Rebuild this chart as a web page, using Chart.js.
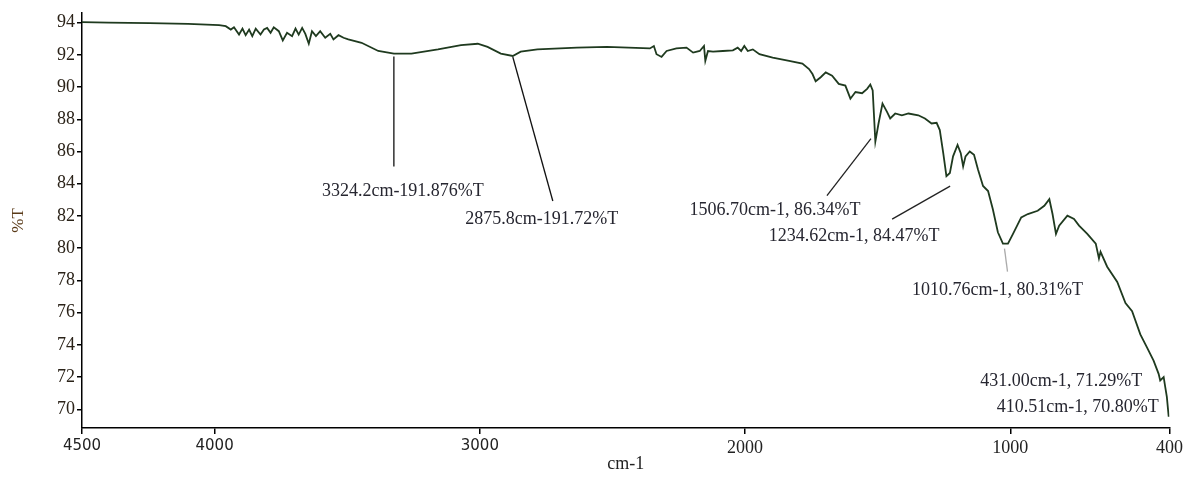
<!DOCTYPE html>
<html lang="en">
<head>
<meta charset="UTF-8">
<title>FTIR spectrum</title>
<script src="https://cdn.jsdelivr.net/npm/chart.js"></script>
<style>
  html, body { margin: 0; padding: 0; background: #fff; }
  .wrap { width: 1186px; height: 479px; }
</style>
</head>
<body>
<div class="wrap"><canvas id="ftir"></canvas></div>
<script>
// spectrum: wavenumber (cm-1) and transmittance (%T)
const wavenumbers = [
  4500, 4400, 4245, 4100, 3983, 3958, 3939, 3927, 3908, 3895, 3883, 3870, 3858, 3845, 3827, 3814,
  3802, 3789, 3777, 3758, 3743, 3727, 3708, 3695, 3683, 3670, 3658, 3645, 3633, 3618, 3602, 3583,
  3564, 3552, 3533, 3514, 3496, 3446, 3383, 3324, 3258, 3158, 3071, 3008, 2971, 2921, 2876, 2846,
  2783, 2634, 2521, 2359, 2344, 2334, 2315, 2296, 2259, 2221, 2196, 2171, 2155, 2150, 2140, 2121,
  2084, 2046, 2028, 2015, 2003, 1990, 1971, 1946, 1896, 1834, 1784, 1759, 1746, 1734, 1715, 1696,
  1672, 1647, 1622, 1603, 1584, 1559, 1540, 1528, 1519, 1509, 1497, 1482, 1465, 1453, 1434, 1409,
  1384, 1347, 1322, 1297, 1278, 1266, 1253, 1241, 1228, 1216, 1199, 1187, 1178, 1169, 1153, 1137,
  1122, 1103, 1084, 1066, 1047, 1028, 1009, 990, 959, 934, 897, 872, 853, 841, 828, 816,
  785, 760, 741, 710, 678, 666, 660, 635, 597, 566, 541, 510, 485, 460, 441, 435,
  422, 416, 410, 403
];
const transmittance = [
  94.03, 94.00, 93.97, 93.92, 93.85, 93.78, 93.57, 93.71, 93.26, 93.63, 93.22, 93.57, 93.16, 93.63, 93.26, 93.57,
  93.67, 93.37, 93.71, 93.47, 92.90, 93.37, 93.16, 93.63, 93.26, 93.67, 93.30, 92.69, 93.47, 93.16, 93.47, 93.06,
  93.30, 92.96, 93.22, 93.06, 92.96, 92.75, 92.24, 92.08, 92.08, 92.34, 92.61, 92.69, 92.49, 92.08, 91.93, 92.20,
  92.34, 92.45, 92.49, 92.40, 92.55, 92.04, 91.87, 92.24, 92.40, 92.45, 92.14, 92.24, 92.55, 91.63, 92.24, 92.20,
  92.24, 92.28, 92.45, 92.24, 92.55, 92.24, 92.34, 92.04, 91.83, 91.63, 91.46, 91.12, 90.81, 90.36, 90.61, 90.91,
  90.71, 90.20, 90.09, 89.28, 89.69, 89.62, 89.89, 90.16, 89.79, 86.62, 87.74, 88.97, 88.46, 88.05, 88.36, 88.25,
  88.36, 88.25, 88.05, 87.74, 87.78, 87.33, 85.90, 84.47, 84.67, 85.70, 86.41, 85.90, 85.08, 85.70, 86.00, 85.80,
  84.88, 83.86, 83.55, 82.42, 80.99, 80.28, 80.28, 80.89, 81.91, 82.12, 82.32, 82.63, 83.04, 82.12, 80.89, 81.40,
  82.02, 81.81, 81.40, 80.89, 80.28, 79.36, 79.77, 78.85, 77.90, 76.60, 76.09, 74.65, 73.84, 73.02, 72.20, 71.79,
  72.00, 71.38, 70.77, 69.54
];

const xTicks = [4500, 4000, 3000, 2000, 1000, 400];
const yTicks = [70, 72, 74, 76, 78, 80, 82, 84, 86, 88, 90, 92, 94];

// peak annotations
const peakLabels = [
  '3324.2cm-191.876%T', '2875.8cm-191.72%T', '1506.70cm-1, 86.34%T', '1234.62cm-1, 84.47%T',
  '1010.76cm-1, 80.31%T', '431.00cm-1, 71.29%T', '410.51cm-1, 70.80%T'
];
const peakWavenumbers = [3324.2, 2875.8, 1506.70, 1234.62, 1010.76, 431.00, 410.51];
const peakValues = [92.08, 91.93, 86.62, 84.47, 80.28, 71.29, 70.80];

// leader line / label offsets from each peak, in pixels
const leaderLayout = [
  { sx: 0, sy: 3, ex: 0, ey: 113, tx: 9, ty: 138, color: '#111' },
  { sx: 0, sy: 1, ex: 40, ey: 145, tx: 29, ty: 163, color: '#111' },
  { sx: -5, sy: -3, ex: -49, ey: 54, tx: -101, ty: 69, color: '#222' },
  { sx: 2, sy: 10, ex: -56, ey: 43, tx: -94, ty: 60, color: '#222' },
  { sx: -3, sy: 5, ex: 0, ey: 28, tx: -10, ty: 47, color: '#aaa' },
  { tx: -100, ty: -7 },
  { tx: -89, ty: 11 }
];

const peakNotes = {
  id: 'peakNotes',
  afterDatasetsDraw(chart) {
    const { ctx, scales: { x, y } } = chart;
    ctx.save();
    peakLabels.forEach((txt, i) => {
      const px = x.getPixelForValue(peakWavenumbers[i]);
      const py = y.getPixelForValue(peakValues[i]);
      const l = leaderLayout[i];
      if (l.ex !== undefined) {
        ctx.strokeStyle = l.color;
        ctx.lineWidth = 1.3;
        ctx.beginPath();
        ctx.moveTo(px + l.sx, py + l.sy);
        ctx.lineTo(px + l.ex, py + l.ey);
        ctx.stroke();
      }
      ctx.fillStyle = '#262630';
      ctx.font = '18px "Liberation Serif", "Times New Roman", serif';
      ctx.textAlign = 'center';
      ctx.textBaseline = 'middle';
      ctx.fillText(txt, px + l.tx, py + l.ty);
    });
    ctx.restore();
  }
};

const serif = '"Liberation Serif", "Times New Roman", serif';

new Chart(document.getElementById('ftir'), {
  type: 'line',
  data: {
    datasets: [{
      data: wavenumbers.map((w, i) => ({ x: w, y: transmittance[i] })),
      borderColor: '#1f3a1f',
      borderWidth: 1.8,
      pointRadius: 0,
      tension: 0,
      fill: false
    }]
  },
  options: {
    responsive: true,
    maintainAspectRatio: false,
    animation: false,
    layout: { autoPadding: false, padding: { top: 7, right: 10, left: 0, bottom: 0 } },
    plugins: { legend: { display: false }, tooltip: { enabled: false } },
    scales: {
      x: {
        type: 'linear',
        reverse: true,
        min: 400,
        max: 4500,
        afterBuildTicks: s => { s.ticks = xTicks.map(v => ({ value: v })); },
        afterFit: s => { s.height = 51; },
        border: { color: '#000', width: 1.5 },
        grid: { drawOnChartArea: false, drawTicks: true, tickLength: 6, color: '#000', lineWidth: 1.5 },
        ticks: {
          color: '#222',
          padding: 3,
          maxRotation: 0,
          autoSkip: false,
          callback: v => String(v),
          font: c => (c.tick && c.tick.value >= 3000)
            ? { family: '"DejaVu Sans", sans-serif', size: 15 }
            : { family: serif, size: 18 }
        },
        title: { display: true, text: 'cm-1', color: '#222', font: { family: serif, size: 18 }, padding: { top: 0, bottom: 4 } }
      },
      y: {
        type: 'linear',
        min: 68.84,
        max: 94.61,
        afterBuildTicks: s => { s.ticks = yTicks.map(v => ({ value: v })); },
        afterFit: s => { s.width = 82; },
        border: { color: '#000', width: 1.5 },
        grid: { drawOnChartArea: false, drawTicks: true, tickLength: 5, color: '#000', lineWidth: 1.5 },
        ticks: { color: '#2a2218', padding: 2, font: { family: serif, size: 18 }, callback: v => String(v) },
        title: { display: true, text: '%T', color: '#5a3a18', font: { family: serif, size: 17 }, padding: { top: 8, bottom: 0 } }
      }
    }
  },
  plugins: [peakNotes]
});
</script>
</body>
</html>
